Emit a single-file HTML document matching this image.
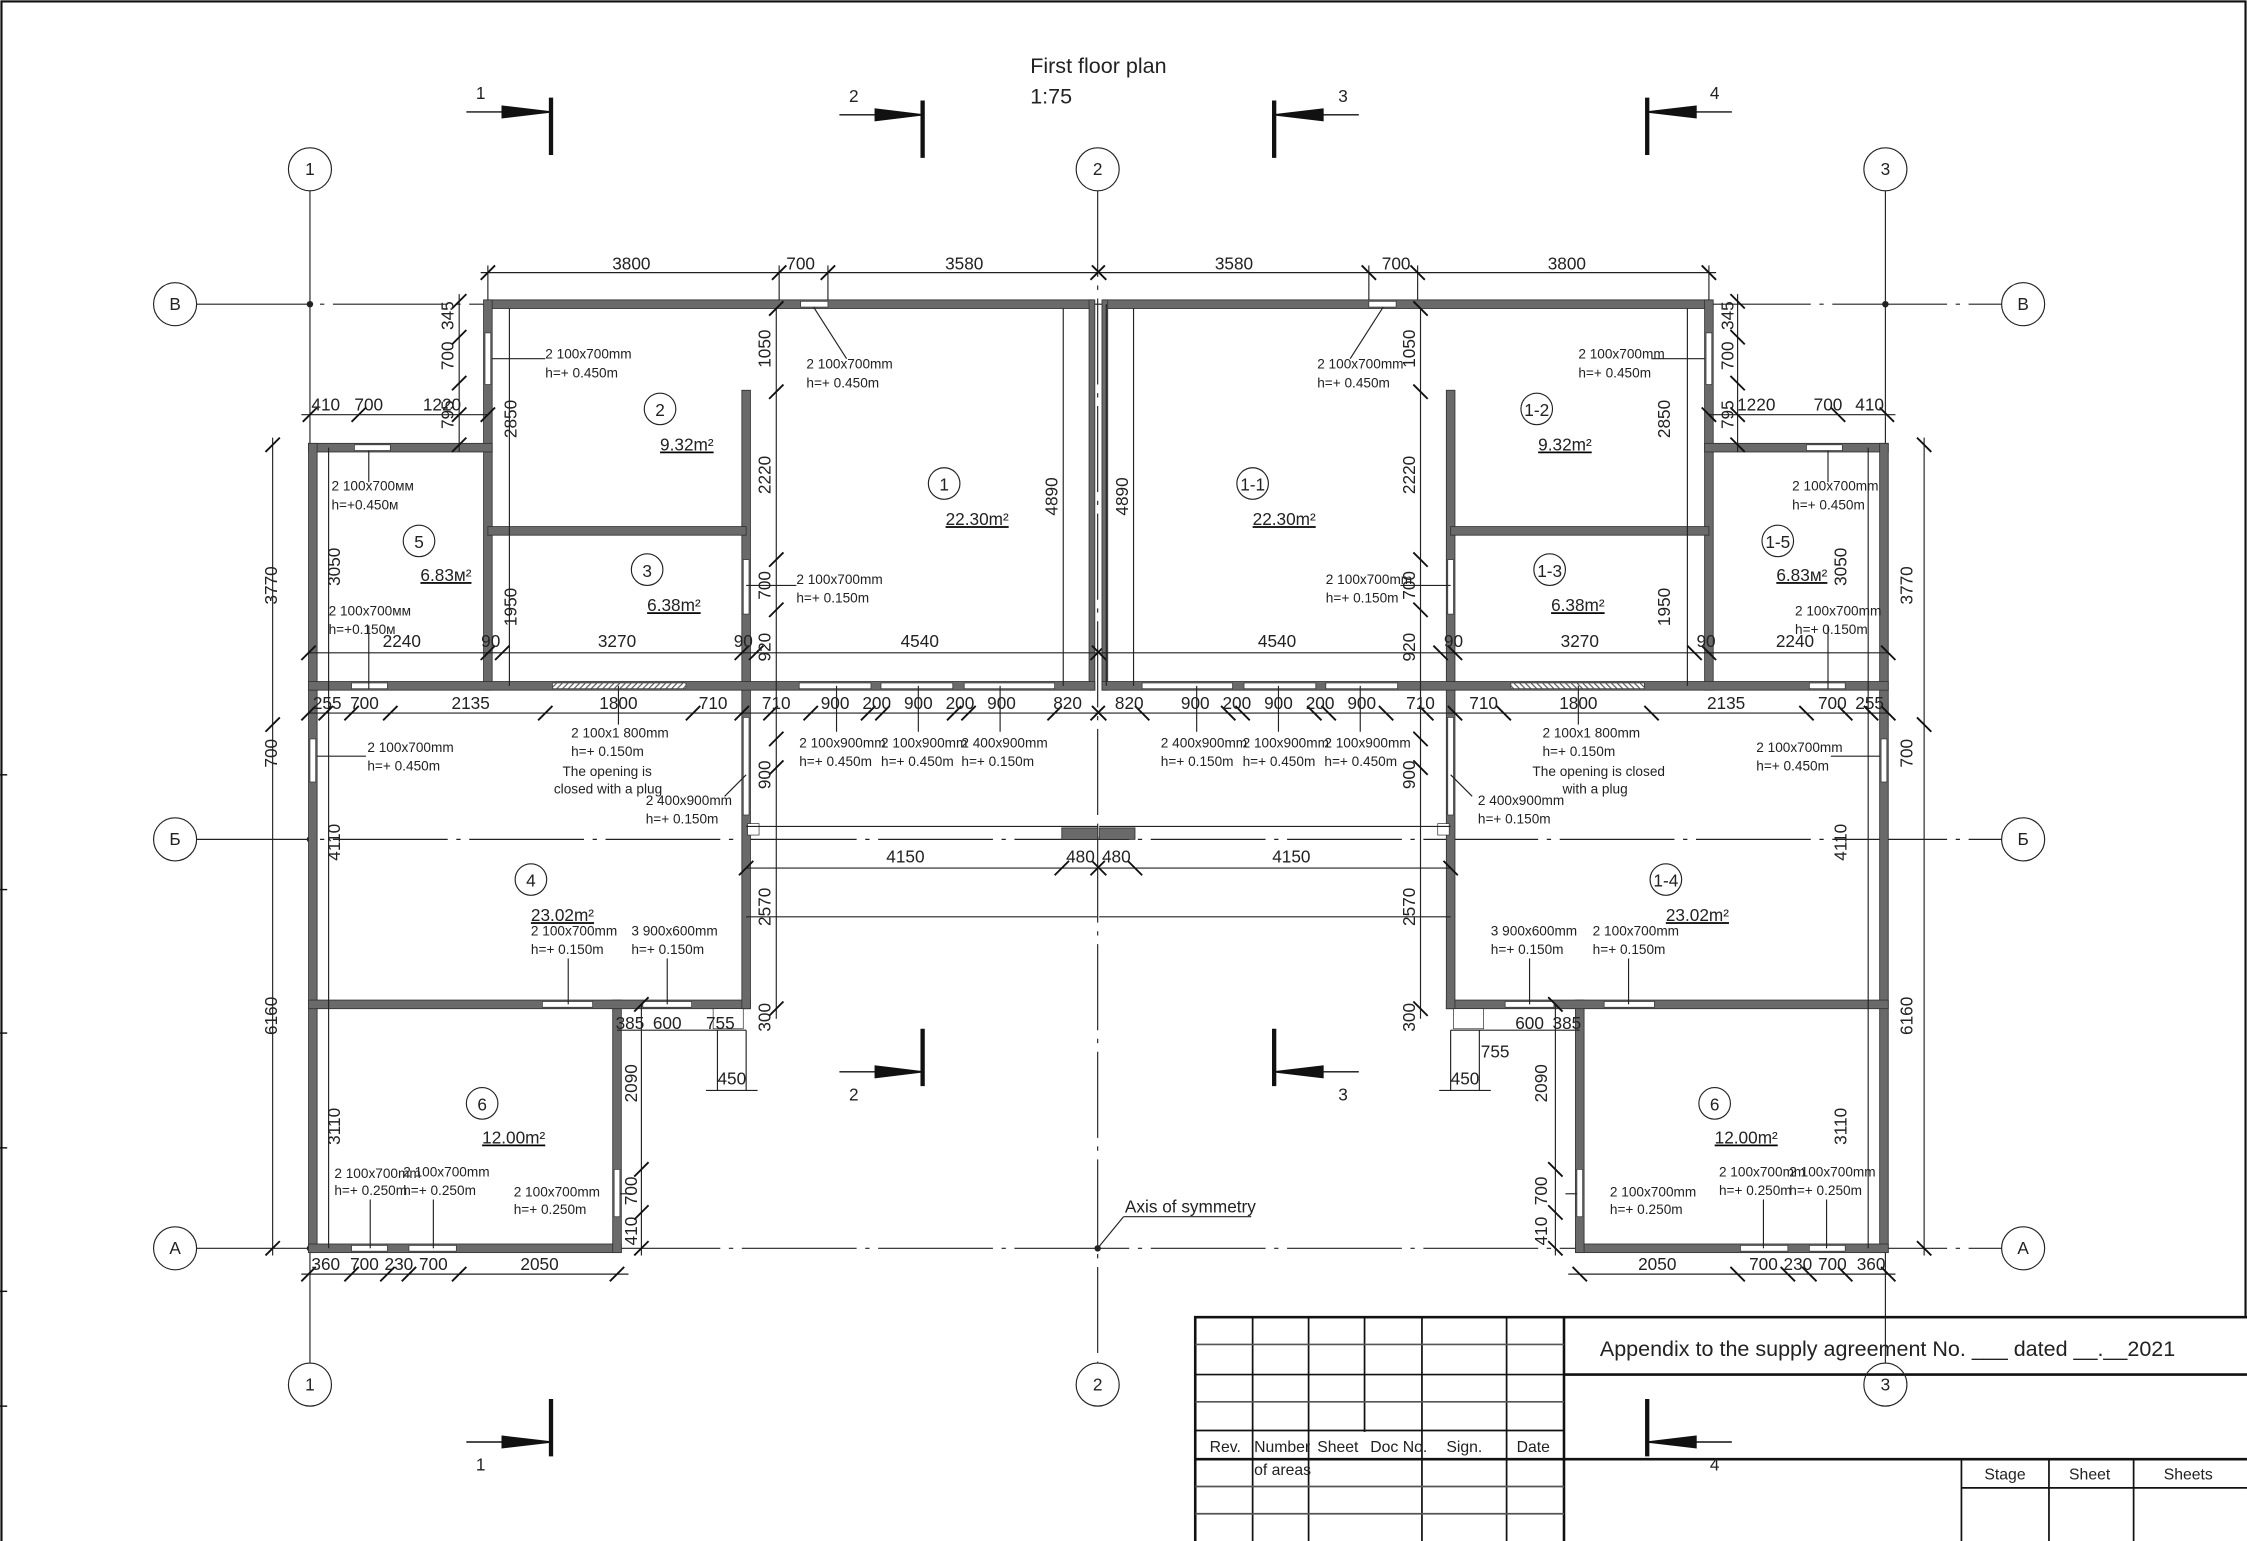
<!DOCTYPE html>
<html><head><meta charset="utf-8"><style>
html,body{margin:0;padding:0;background:#fff}
svg{display:block}
text{font-family:"Liberation Sans",sans-serif;fill:#222}
.d{font-size:12px}
.n{font-size:9.5px}
.r{font-size:12px}
.t{font-size:15px}
</style></head><body>
<svg width="2247" height="1541" viewBox="0 0 1566 1074" xmlns="http://www.w3.org/2000/svg">
<rect x="0" y="0" width="1566" height="1074" fill="#fff"/>
<rect x="1" y="1" width="1564" height="1080" fill="none" stroke="#111" stroke-width="1.5"/>
<g stroke="#111" stroke-width="1">
<line x1="0" y1="540" x2="5" y2="540"/><line x1="0" y1="620" x2="5" y2="620"/><line x1="0" y1="720" x2="5" y2="720"/><line x1="0" y1="800" x2="5" y2="800"/><line x1="0" y1="900" x2="5" y2="900"/><line x1="0" y1="980" x2="5" y2="980"/>
</g>
<!-- axes -->
<g stroke="#222" stroke-width="0.8" fill="none">
<line x1="216" y1="133" x2="216" y2="950"/>
<line x1="765" y1="133" x2="765" y2="950" stroke-dasharray="60,6,3,6"/>
<line x1="1314" y1="133" x2="1314" y2="950"/>
<line x1="137" y1="212" x2="1395" y2="212" stroke-dasharray="80,6,3,6"/>
<line x1="137" y1="585" x2="1395" y2="585" stroke-dasharray="80,6,3,6"/>
<line x1="137" y1="870" x2="1395" y2="870" stroke-dasharray="80,6,3,6"/>
<circle cx="216" cy="118" r="15"/><circle cx="765" cy="118" r="15"/><circle cx="1314" cy="118" r="15"/>
<circle cx="216" cy="965" r="15"/><circle cx="765" cy="965" r="15"/><circle cx="1314" cy="965" r="15"/>
<circle cx="122" cy="212" r="15"/><circle cx="122" cy="585" r="15"/><circle cx="122" cy="870" r="15"/>
<circle cx="1410" cy="212" r="15"/><circle cx="1410" cy="585" r="15"/><circle cx="1410" cy="870" r="15"/>
</g>
<g fill="#222" stroke="#222" stroke-width="0.5"><circle cx="216" cy="212" r="2"/><circle cx="1314" cy="212" r="2"/><circle cx="216" cy="585" r="2"/><circle cx="1314" cy="585" r="2"/><circle cx="216" cy="870" r="2"/><circle cx="1314" cy="870" r="2"/><circle cx="765" cy="870" r="2"/></g>
<g class="r" text-anchor="middle">
<text x="216" y="122">1</text><text x="765" y="122">2</text><text x="1314" y="122">3</text>
<text x="216" y="969">1</text><text x="765" y="969">2</text><text x="1314" y="969">3</text>
<text x="122" y="216">В</text><text x="122" y="589">Б</text><text x="122" y="874">А</text>
<text x="1410" y="216">В</text><text x="1410" y="589">Б</text><text x="1410" y="874">А</text>
</g>
<!-- section markers -->
<g stroke="#111" fill="#111">
<line x1="384" y1="68" x2="384" y2="108" stroke-width="3"/><line x1="325" y1="78" x2="360" y2="78" stroke-width="1"/><polygon points="350,74 384,78 350,82"/>
<line x1="643" y1="70" x2="643" y2="110" stroke-width="3"/><line x1="585" y1="80" x2="620" y2="80" stroke-width="1"/><polygon points="610,76 643,80 610,84"/>
<line x1="888" y1="70" x2="888" y2="110" stroke-width="3"/><line x1="912" y1="80" x2="947" y2="80" stroke-width="1"/><polygon points="922,76 888,80 922,84"/>
<line x1="1148" y1="68" x2="1148" y2="108" stroke-width="3"/><line x1="1172" y1="78" x2="1207" y2="78" stroke-width="1"/><polygon points="1182,74 1148,78 1182,82"/>
<line x1="643" y1="717" x2="643" y2="757" stroke-width="3"/><line x1="585" y1="747" x2="620" y2="747" stroke-width="1"/><polygon points="610,743 643,747 610,751"/>
<line x1="888" y1="717" x2="888" y2="757" stroke-width="3"/><line x1="912" y1="747" x2="947" y2="747" stroke-width="1"/><polygon points="922,743 888,747 922,751"/>
<line x1="384" y1="975" x2="384" y2="1015" stroke-width="3"/><line x1="325" y1="1005" x2="360" y2="1005" stroke-width="1"/><polygon points="350,1001 384,1005 350,1009"/>
<line x1="1148" y1="975" x2="1148" y2="1015" stroke-width="3"/><line x1="1172" y1="1005" x2="1207" y2="1005" stroke-width="1"/><polygon points="1182,1001 1148,1005 1182,1009"/>
</g>
<g class="r" text-anchor="middle"><text x="335" y="69">1</text><text x="595" y="71">2</text><text x="936" y="71">3</text><text x="1195" y="69">4</text><text x="595" y="767">2</text><text x="936" y="767">3</text><text x="335" y="1025">1</text><text x="1195" y="1025">4</text></g>
<text x="718" y="51" style="font-size:15px">First floor plan</text>
<text x="718" y="72" style="font-size:15px">1:75</text>

<!-- building half -->
<defs>
<pattern id="h" width="4" height="4" patternUnits="userSpaceOnUse"><rect width="4" height="4" fill="#fff"/><line x1="0" y1="4" x2="4" y2="0" stroke="#555" stroke-width="0.8"/></pattern>
<g id="half">
<g fill="#6a6a6a" stroke="#333" stroke-width="0.6">
<rect x="340" y="209" width="422" height="6"/>
<rect x="759" y="209" width="4" height="272"/>
<rect x="337" y="209" width="6" height="272"/>
<rect x="215" y="309" width="128" height="6"/>
<rect x="215" y="309" width="6" height="564"/>
<rect x="215" y="867" width="218" height="6"/>
<rect x="427" y="697" width="6" height="176"/>
<rect x="215" y="697" width="308" height="6"/>
<rect x="517" y="272" width="6" height="431"/>
<rect x="340" y="367" width="180" height="6"/>
<rect x="215" y="475" width="548" height="6"/>
<rect x="740" y="577" width="25" height="8"/>
</g>
<g fill="#fff" stroke="#333" stroke-width="0.5">
<rect x="558" y="210" width="19" height="4"/>
<rect x="338" y="232" width="4" height="36"/>
<rect x="247" y="310" width="25" height="4"/>
<rect x="216" y="515" width="4" height="30"/>
<rect x="245" y="868" width="25" height="4"/>
<rect x="285" y="868" width="33" height="4"/>
<rect x="428" y="815" width="4" height="33"/>
<rect x="378" y="698" width="35" height="4"/>
<rect x="448" y="698" width="34" height="4"/>
<rect x="518" y="390" width="4" height="38"/>
<rect x="518" y="500" width="4" height="68"/>
<rect x="245" y="476" width="25" height="4"/>
<rect x="557" y="476" width="50" height="4"/>
<rect x="614" y="476" width="50" height="4"/>
<rect x="672" y="476" width="63" height="4"/>
<rect x="497" y="703" width="21" height="14"/>
<rect x="521" y="574" width="8" height="8"/>
</g>
<rect x="385" y="476" width="93" height="4" fill="url(#h)" stroke="#333" stroke-width="0.5"/>
<g stroke="#222" stroke-width="0.8" fill="none">
<line x1="520" y1="576" x2="765" y2="576"/><line x1="520" y1="639" x2="765" y2="639"/>
<!-- dims -->
<line x1="335" y1="190" x2="765" y2="190"/>
<line x1="340" y1="185" x2="340" y2="209"/><line x1="543" y1="185" x2="543" y2="209"/><line x1="577" y1="185" x2="577" y2="209"/>
<line x1="210" y1="289" x2="340" y2="289"/>
<line x1="320" y1="205" x2="320" y2="315"/>
<line x1="190" y1="305" x2="190" y2="875"/>
<line x1="229" y1="312" x2="229" y2="870"/>
<line x1="355" y1="215" x2="355" y2="478"/>
<line x1="541" y1="215" x2="541" y2="710"/>
<line x1="741" y1="215" x2="741" y2="478"/>
<line x1="215" y1="455" x2="765" y2="455"/>
<line x1="215" y1="497" x2="765" y2="497"/>
<line x1="520" y1="605" x2="765" y2="605"/>
<line x1="210" y1="888" x2="438" y2="888"/>
<line x1="447" y1="700" x2="447" y2="875"/>
<line x1="430" y1="718" x2="520" y2="718"/>
<line x1="492" y1="760" x2="528" y2="760"/>
<line x1="500" y1="718" x2="500" y2="760"/><line x1="520" y1="718" x2="520" y2="760"/>
<!-- leaders -->
<line x1="343" y1="250" x2="380" y2="250"/>
<line x1="567" y1="214" x2="590" y2="250"/>
<line x1="257" y1="314" x2="257" y2="336"/>
<line x1="257" y1="480" x2="257" y2="436"/>
<line x1="221" y1="527" x2="255" y2="527"/>
<line x1="520" y1="408" x2="555" y2="408"/>
<line x1="520" y1="540" x2="505" y2="555"/>
<line x1="396" y1="700" x2="396" y2="668"/>
<line x1="465" y1="700" x2="465" y2="668"/>
<line x1="432" y1="832" x2="440" y2="832"/>
<line x1="258" y1="870" x2="258" y2="836"/><line x1="302" y1="870" x2="302" y2="836"/>
<line x1="583" y1="478" x2="583" y2="510"/><line x1="640" y1="478" x2="640" y2="510"/><line x1="697" y1="478" x2="697" y2="510"/>
<line x1="431" y1="478" x2="431" y2="505"/>
</g>
<g stroke="#111" stroke-width="1.3">
<path d="M335 195l10-10M538 195l10-10M572 195l10-10M760 195l10-10"/>
<path d="M211 294l10-10M245 294l10-10M315 294l10-10M335 294l10-10"/>
<path d="M315 215l10-10M315 240l10-10M315 272l10-10M315 315l10-10"/>
<path d="M185 315l10-10M185 510l10-10M185 875l10-10"/>
<path d="M210 460l10-10M335 460l10-10M345 460l10-10M512 460l10-10M522 460l10-10M760 460l10-10"/>
<path d="M210 502l10-10M222 502l10-10M240 502l10-10M267 502l10-10M375 502l10-10M478 502l10-10M512 502l10-10M532 502l10-10M560 502l10-10M600 502l10-10M610 502l10-10M660 502l10-10M670 502l10-10M730 502l10-10M760 502l10-10"/>
<path d="M515 610l10-10M735 610l10-10M760 610l10-10"/>
<path d="M210 893l10-10M240 893l10-10M265 893l10-10M280 893l10-10M315 893l10-10M425 893l10-10"/>
<path d="M536 220l10-10M536 278l10-10M536 395l10-10M536 430l10-10M536 520l10-10M536 540l10-10M536 708l10-10"/>
<path d="M442 705l10-10M442 820l10-10M442 850l10-10M442 875l10-10"/>
</g>
</g>
</defs>
<use href="#half"/>
<use href="#half" transform="translate(1531,0) scale(-1,1)"/>
<line x1="771" y1="212" x2="771" y2="478" stroke="#222" stroke-width="0.8"/>

<!-- room circles -->
<g stroke="#222" fill="none" stroke-width="0.8">
<circle cx="460" cy="285" r="11"/><circle cx="658" cy="337" r="11"/><circle cx="451" cy="397" r="11"/><circle cx="292" cy="377" r="11"/><circle cx="370" cy="613" r="11"/><circle cx="336" cy="769" r="11"/>
<circle cx="1071" cy="285" r="11"/><circle cx="873" cy="337" r="11"/><circle cx="1080" cy="397" r="11"/><circle cx="1239" cy="377" r="11"/><circle cx="1161" cy="613" r="11"/><circle cx="1195" cy="769" r="11"/>
</g>
<g class="d" text-anchor="middle">
<text x="460" y="290">2</text><text x="658" y="342">1</text><text x="451" y="402">3</text><text x="292" y="382">5</text><text x="370" y="618">4</text><text x="336" y="774">6</text>
<text x="1071" y="290">1-2</text><text x="873" y="342">1-1</text><text x="1080" y="402">1-3</text><text x="1239" y="382">1-5</text><text x="1161" y="618">1-4</text><text x="1195" y="774">6</text>
</g>
<g class="d" text-decoration="underline">
<text x="460" y="314">9.32m²</text><text x="659" y="366">22.30m²</text><text x="451" y="426">6.38m²</text><text x="293" y="405">6.83м²</text><text x="370" y="642">23.02m²</text><text x="336" y="797">12.00m²</text>
<text x="1072" y="314">9.32m²</text><text x="873" y="366">22.30m²</text><text x="1081" y="426">6.38m²</text><text x="1238" y="405">6.83м²</text><text x="1161" y="642">23.02m²</text><text x="1195" y="797">12.00m²</text>
</g>
<!-- dimension labels -->
<g class="d" text-anchor="middle">
<text x="440" y="188">3800</text><text x="558" y="188">700</text><text x="672" y="188">3580</text><text x="860" y="188">3580</text><text x="973" y="188">700</text><text x="1092" y="188">3800</text>
<text x="227" y="286">410</text><text x="257" y="286">700</text><text x="308" y="286">1220</text>
<text x="1224" y="286">1220</text><text x="1274" y="286">700</text><text x="1303" y="286">410</text>
<text x="280" y="451">2240</text><text x="342" y="451">90</text><text x="430" y="451">3270</text><text x="518" y="451">90</text><text x="641" y="451">4540</text>
<text x="890" y="451">4540</text><text x="1013" y="451">90</text><text x="1101" y="451">3270</text><text x="1189" y="451">90</text><text x="1251" y="451">2240</text>
<text x="228" y="494">255</text><text x="254" y="494">700</text><text x="328" y="494">2135</text><text x="431" y="494">1800</text><text x="497" y="494">710</text><text x="541" y="494">710</text><text x="582" y="494">900</text><text x="611" y="494">200</text><text x="640" y="494">900</text><text x="669" y="494">200</text><text x="698" y="494">900</text><text x="744" y="494">820</text>
<text x="787" y="494">820</text><text x="833" y="494">900</text><text x="862" y="494">200</text><text x="891" y="494">900</text><text x="920" y="494">200</text><text x="949" y="494">900</text><text x="990" y="494">710</text><text x="1034" y="494">710</text><text x="1100" y="494">1800</text><text x="1203" y="494">2135</text><text x="1277" y="494">700</text><text x="1303" y="494">255</text>
<text x="631" y="601">4150</text><text x="753" y="601">480</text><text x="778" y="601">480</text><text x="900" y="601">4150</text>
<text x="227" y="885">360</text><text x="254" y="885">700</text><text x="278" y="885">230</text><text x="302" y="885">700</text><text x="376" y="885">2050</text>
<text x="1155" y="885">2050</text><text x="1229" y="885">700</text><text x="1253" y="885">230</text><text x="1277" y="885">700</text><text x="1304" y="885">360</text>
<text x="439" y="717">385</text><text x="465" y="717">600</text><text x="502" y="717">755</text><text x="510" y="756">450</text>
<text x="1092" y="717">385</text><text x="1066" y="717">600</text><text x="1042" y="737">755</text><text x="1021" y="756">450</text>
</g>
<!-- vertical labels -->
<g class="d" text-anchor="middle">
<text transform="translate(193,408) rotate(-90)">3770</text><text transform="translate(193,708) rotate(-90)">6160</text><text transform="translate(193,525) rotate(-90)">700</text>
<text transform="translate(237,395) rotate(-90)">3050</text><text transform="translate(237,587) rotate(-90)">4110</text><text transform="translate(237,785) rotate(-90)">3110</text>
<text transform="translate(316,248) rotate(-90)">700</text><text transform="translate(316,220) rotate(-90)">345</text><text transform="translate(316,289) rotate(-90)">795</text>
<text transform="translate(360,292) rotate(-90)">2850</text><text transform="translate(360,423) rotate(-90)">1950</text>
<text transform="translate(537,243) rotate(-90)">1050</text><text transform="translate(537,331) rotate(-90)">2220</text><text transform="translate(537,408) rotate(-90)">700</text><text transform="translate(537,451) rotate(-90)">920</text><text transform="translate(537,540) rotate(-90)">900</text><text transform="translate(537,632) rotate(-90)">2570</text><text transform="translate(537,709) rotate(-90)">300</text>
<text transform="translate(737,346) rotate(-90)">4890</text>
<text transform="translate(444,755) rotate(-90)">2090</text><text transform="translate(444,830) rotate(-90)">700</text><text transform="translate(444,858) rotate(-90)">410</text>
<text transform="translate(1333,408) rotate(-90)">3770</text><text transform="translate(1333,708) rotate(-90)">6160</text><text transform="translate(1333,525) rotate(-90)">700</text>
<text transform="translate(1287,395) rotate(-90)">3050</text><text transform="translate(1287,587) rotate(-90)">4110</text><text transform="translate(1287,785) rotate(-90)">3110</text>
<text transform="translate(1208,248) rotate(-90)">700</text><text transform="translate(1208,220) rotate(-90)">345</text><text transform="translate(1208,289) rotate(-90)">795</text>
<text transform="translate(1164,292) rotate(-90)">2850</text><text transform="translate(1164,423) rotate(-90)">1950</text>
<text transform="translate(986,243) rotate(-90)">1050</text><text transform="translate(986,331) rotate(-90)">2220</text><text transform="translate(986,408) rotate(-90)">700</text><text transform="translate(986,451) rotate(-90)">920</text><text transform="translate(986,540) rotate(-90)">900</text><text transform="translate(986,632) rotate(-90)">2570</text><text transform="translate(986,709) rotate(-90)">300</text>
<text transform="translate(786,346) rotate(-90)">4890</text>
<text transform="translate(1078,755) rotate(-90)">2090</text><text transform="translate(1078,830) rotate(-90)">700</text><text transform="translate(1078,858) rotate(-90)">410</text>
</g>
<!-- notes -->
<g class="n">
<text x="380" y="250">2 100x700mm</text><text x="380" y="263">h=+ 0.450m</text>
<text x="562" y="257">2 100x700mm</text><text x="562" y="270">h=+ 0.450m</text>
<text x="231" y="342">2 100x700мм</text><text x="231" y="355">h=+0.450м</text>
<text x="229" y="429">2 100x700мм</text><text x="229" y="442">h=+0.150м</text>
<text x="555" y="407">2 100x700mm</text><text x="555" y="420">h=+ 0.150m</text>
<text x="256" y="524">2 100x700mm</text><text x="256" y="537">h=+ 0.450m</text>
<text x="398" y="514">2 100x1 800mm</text><text x="398" y="527">h=+ 0.150m</text>
<text x="392" y="541">The opening is</text><text x="386" y="553">closed with a plug</text>
<text x="450" y="561">2 400x900mm</text><text x="450" y="574">h=+ 0.150m</text>
<text x="557" y="521">2 100x900mm</text><text x="557" y="534">h=+ 0.450m</text>
<text x="614" y="521">2 100x900mm</text><text x="614" y="534">h=+ 0.450m</text>
<text x="670" y="521">2 400x900mm</text><text x="670" y="534">h=+ 0.150m</text>
<text x="370" y="652">2 100x700mm</text><text x="370" y="665">h=+ 0.150m</text>
<text x="440" y="652">3 900x600mm</text><text x="440" y="665">h=+ 0.150m</text>
<text x="233" y="821">2 100x700mm</text><text x="233" y="833">h=+ 0.250m</text>
<text x="281" y="820">2 100x700mm</text><text x="281" y="833">h=+ 0.250m</text>
<text x="358" y="834">2 100x700mm</text><text x="358" y="846">h=+ 0.250m</text>
<text x="1100" y="250">2 100x700mm</text><text x="1100" y="263">h=+ 0.450m</text>
<text x="918" y="257">2 100x700mm</text><text x="918" y="270">h=+ 0.450m</text>
<text x="1249" y="342">2 100x700mm</text><text x="1249" y="355">h=+ 0.450m</text>
<text x="1251" y="429">2 100x700mm</text><text x="1251" y="442">h=+ 0.150m</text>
<text x="924" y="407">2 100x700mm</text><text x="924" y="420">h=+ 0.150m</text>
<text x="1224" y="524">2 100x700mm</text><text x="1224" y="537">h=+ 0.450m</text>
<text x="1075" y="514">2 100x1 800mm</text><text x="1075" y="527">h=+ 0.150m</text>
<text x="1068" y="541">The opening is closed</text><text x="1089" y="553">with a plug</text>
<text x="1030" y="561">2 400x900mm</text><text x="1030" y="574">h=+ 0.150m</text>
<text x="809" y="521">2 400x900mm</text><text x="809" y="534">h=+ 0.150m</text>
<text x="866" y="521">2 100x900mm</text><text x="866" y="534">h=+ 0.450m</text>
<text x="923" y="521">2 100x900mm</text><text x="923" y="534">h=+ 0.450m</text>
<text x="1039" y="652">3 900x600mm</text><text x="1039" y="665">h=+ 0.150m</text>
<text x="1110" y="652">2 100x700mm</text><text x="1110" y="665">h=+ 0.150m</text>
<text x="1122" y="834">2 100x700mm</text><text x="1122" y="846">h=+ 0.250m</text>
<text x="1198" y="820">2 100x700mm</text><text x="1198" y="833">h=+ 0.250m</text>
<text x="1247" y="820">2 100x700mm</text><text x="1247" y="833">h=+ 0.250m</text>
</g>
<line x1="765" y1="870" x2="783" y2="848" stroke="#222" stroke-width="0.8"/>
<line x1="783" y1="848" x2="872" y2="848" stroke="#222" stroke-width="0.8"/>
<text x="784" y="845" class="d">Axis of symmetry</text>

<!-- title block -->
<rect x="833" y="918" width="740" height="170" fill="#fff" stroke="#111" stroke-width="1.8"/>
<g stroke="#111" stroke-width="1.2">
<line x1="873" y1="918" x2="873" y2="1074"/><line x1="912" y1="918" x2="912" y2="1074"/><line x1="951" y1="918" x2="951" y2="998"/><line x1="991" y1="918" x2="991" y2="1074"/><line x1="1050" y1="918" x2="1050" y2="1074"/><line x1="1090" y1="918" x2="1090" y2="1074" stroke-width="1.8"/>
<line x1="833" y1="937" x2="1090" y2="937" stroke="#555"/><line x1="833" y1="958" x2="1090" y2="958"/><line x1="833" y1="977" x2="1090" y2="977" stroke="#555"/><line x1="833" y1="997" x2="1090" y2="997"/><line x1="833" y1="1017" x2="1566" y2="1017" stroke-width="1.8"/><line x1="833" y1="1036" x2="1090" y2="1036" stroke="#555"/><line x1="833" y1="1055" x2="1090" y2="1055" stroke="#555"/>
<line x1="1090" y1="958" x2="1566" y2="958" stroke-width="1.8"/>
<line x1="1367" y1="1017" x2="1367" y2="1074"/><line x1="1428" y1="1017" x2="1428" y2="1074"/><line x1="1487" y1="1017" x2="1487" y2="1074"/><line x1="1367" y1="1037" x2="1566" y2="1037"/>
</g>
<line x1="1314" y1="918" x2="1314" y2="950" stroke="#222" stroke-width="0.8"/>
<circle cx="1314" cy="965" r="15" fill="none" stroke="#222" stroke-width="0.8"/>
<text x="1314" y="969" class="r" text-anchor="middle">3</text>
<g stroke="#111" fill="#111"><line x1="1148" y1="975" x2="1148" y2="1015" stroke-width="3"/><line x1="1172" y1="1005" x2="1207" y2="1005" stroke-width="1"/><polygon points="1182,1001 1148,1005 1182,1009"/></g>
<text x="1195" y="1025" class="r" text-anchor="middle">4</text>
<text x="1115" y="945" class="t">Appendix to the supply agreement No. ___ dated __.__2021</text>
<g class="n" style="font-size:11px">
<text x="843" y="1012">Rev.</text><text x="874" y="1012">Number</text><text x="918" y="1012">Sheet</text><text x="955" y="1012">Doc No.</text><text x="1008" y="1012">Sign.</text><text x="1057" y="1012">Date</text>
<text x="874" y="1028">of areas</text>
<text x="1383" y="1031">Stage</text><text x="1442" y="1031">Sheet</text><text x="1508" y="1031">Sheets</text>
</g>
</svg>
</body></html>
